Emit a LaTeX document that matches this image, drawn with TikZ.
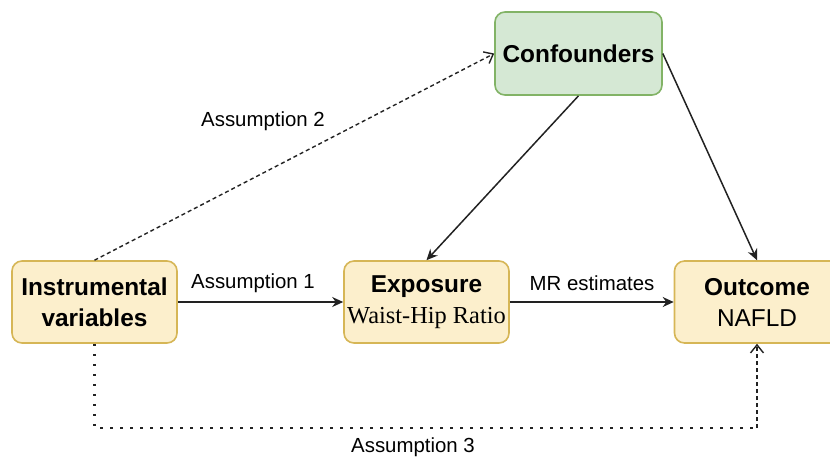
\documentclass[tikz,border=0pt]{standalone}
\usepackage{fontspec}
\setmainfont{Liberation Sans}
\newfontfamily\timesfont{Liberation Serif}
\usetikzlibrary{arrows.meta}
\definecolor{boxfill}{HTML}{FCEFCC}
\definecolor{boxline}{HTML}{D6B656}
\definecolor{confill}{HTML}{D5E8D4}
\definecolor{conline}{HTML}{82B366}
\definecolor{edge}{HTML}{222222}

\begin{document}
\begin{tikzpicture}[x=0.5pt, y=-0.5pt, font=\fontsize{12.2}{15.5}\selectfont,
    box/.style={draw=boxline, fill=boxfill, rounded corners=5pt, line width=0.8pt, minimum width=82.5pt, minimum height=41pt, align=center, inner sep=1pt},
    lbl/.style={font=\fontsize{10.2}{12}\selectfont, inner sep=1pt},
    arr/.style={-{Stealth[length=5.5pt,width=5pt]}, draw=edge, line width=0.75pt},
    openarr/.style={-{Straight Barb[length=4pt,width=6.5pt]}, draw=edge, line width=0.7pt}]
    \useasboundingbox (0,0) rectangle (830,457);
    \node[box, draw=conline, fill=confill, minimum width=83.5pt, minimum height=41.5pt] (conf) at (578.5,53.5) {\textbf{Confounders}};
    \node[box] (iv) at (94.5,302) {\textbf{Instrumental}\\\textbf{variables}};
    \node[box] (exp) at (426.5,302) {\textbf{Exposure}\\{\timesfont Waist-Hip Ratio}};
    \node[box] (out) at (757,302) {\textbf{Outcome}\\NAFLD};
    \coordinate (c3) at (757,428);
    % labels
    \node[lbl] (a1) at (253,283) {Assumption 1};
    \node[lbl] (mr) at (592,283) {MR estimates};
    \node[lbl] (a2) at (263,121) {Assumption 2};
    \node[lbl] (a3) at (413,447) {Assumption 3};
    % edges
        \draw[arr] (iv) -- (exp);
        \draw[arr] (exp) -- (out);
        \draw[arr] (conf.south) -- (exp.north);
        \draw[arr] (conf.east) -- (out.north);
        \draw[openarr, dash pattern=on 2pt off 1.5pt] (iv.north) -- (conf.west);
        \draw[edge, line width=1.3pt, dash pattern=on 1.3pt off 3.7pt] (iv.south) |- (c3);
        \draw[openarr, dash pattern=on 2pt off 1.5pt] (c3) -- (out.south);
\end{tikzpicture}
\end{document}
